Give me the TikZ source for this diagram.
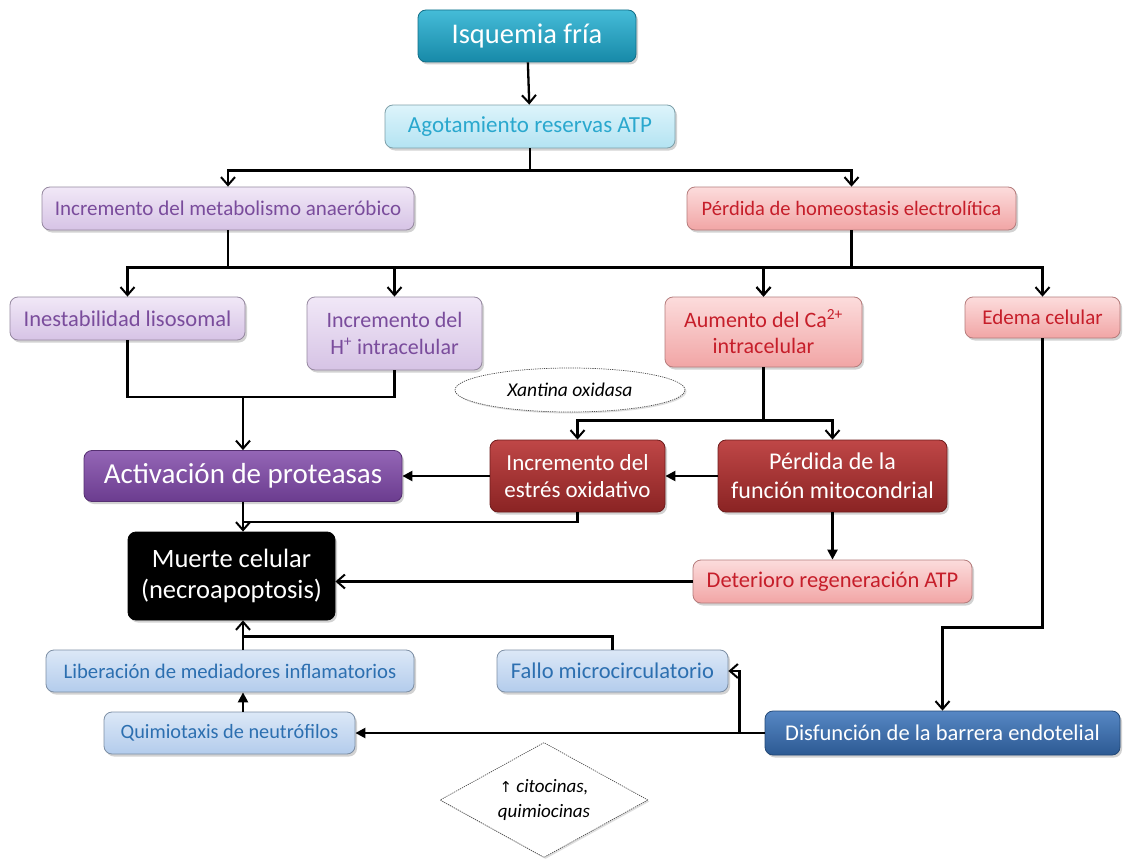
\documentclass[tikz,border=0pt]{standalone}
\usepackage{fontspec}
\setmainfont{Carlito}
\newfontfamily\symfont{DejaVu Sans}
\usetikzlibrary{arrows.meta,shapes.geometric,shadows,calc}

\definecolor{tealA}{HTML}{45BCD8}
\definecolor{tealB}{HTML}{1789A8}
\definecolor{skyA}{HTML}{DDF4FB}
\definecolor{skyB}{HTML}{B3E3F2}
\definecolor{skyT}{HTML}{2AA8CE}
\definecolor{lavA}{HTML}{F1E8F7}
\definecolor{lavB}{HTML}{D6C3E5}
\definecolor{lavT}{HTML}{7A4C9C}
\definecolor{rosA}{HTML}{FCDCDC}
\definecolor{rosB}{HTML}{F1A5A5}
\definecolor{rosT}{HTML}{C61E2A}
\definecolor{purA}{HTML}{9466B6}
\definecolor{purB}{HTML}{6B3C8F}
\definecolor{redA}{HTML}{BF4747}
\definecolor{redB}{HTML}{8A2323}
\definecolor{bluA}{HTML}{DCE8F7}
\definecolor{bluB}{HTML}{B3CCEC}
\definecolor{bluT}{HTML}{2C6FB0}
\definecolor{navA}{HTML}{5787C4}
\definecolor{navB}{HTML}{2C5A93}

\newcommand\fs[1]{\fontsize{#1}{#1}\selectfont}

\tikzset{
  box/.style={rectangle, rounded corners=8pt, align=center, inner sep=2pt,
    line width=0.8pt, execute at begin node={\baselineskip=1.2em},
    drop shadow={shadow xshift=2pt, shadow yshift=-2.5pt, opacity=0.35}},
  tealbox/.style={box, draw=tealB!80!black, top color=tealA, bottom color=tealB, text=white},
  skybox/.style={box, draw=skyB!70!black, top color=skyA, bottom color=skyB, text=skyT},
  lavbox/.style={box, draw=lavB!70!black, top color=lavA, bottom color=lavB, text=lavT},
  rosbox/.style={box, draw=rosB!75!black, top color=rosA, bottom color=rosB, text=rosT},
  purbox/.style={box, draw=purB!80!black, top color=purA, bottom color=purB, text=white},
  redbox/.style={box, draw=redB!80!black, top color=redA, bottom color=redB, text=white},
  blackbox/.style={box, draw=black, fill=black, text=white},
  blubox/.style={box, draw=bluB!70!black, top color=bluA, bottom color=bluB, text=bluT},
  navbox/.style={box, draw=navB!80!black, top color=navA, bottom color=navB, text=white},
  note/.style={draw=black!70, dashed, dash pattern=on 1.2pt off 1pt, line width=0.7pt,
    fill=white, drop shadow={shadow xshift=1.5pt, shadow yshift=-1.5pt, opacity=0.25},
    font=\itshape, align=center},
  link/.style={line width=2.3pt, draw=black},
  arr/.style={link, -{Straight Barb[length=8pt,width=14pt,line width=2pt]}},
  tri/.style={link, -{Triangle[length=10pt,width=10pt]}},
}

\begin{document}
\begin{tikzpicture}[x=1pt,y=-1pt]
\useasboundingbox[fill=white] (0,0) rectangle (1125,859);

% boxes
\node[tealbox, font=\fs{28.5}, minimum width=218pt, minimum height=52pt] (isq) at (527,36) {Isquemia fría};
\node[skybox, font=\fs{23}, minimum width=290pt, minimum height=43pt] (atp) at (530,126.5) {Agotamiento reservas ATP};
\node[lavbox, font=\fs{21}, minimum width=372pt, minimum height=43pt] (meta) at (228,208.5) {Incremento del metabolismo anaeróbico};
\node[rosbox, font=\fs{20.5}, minimum width=329pt, minimum height=43pt] (homeo) at (851.5,208.5) {Pérdida de homeostasis electrolítica};
\node[lavbox, font=\fs{22.5}, minimum width=235pt, minimum height=43pt] (lis) at (127.5,318.5) {Inestabilidad lisosomal};
\node[lavbox, font=\fs{22}, minimum width=175pt, minimum height=73pt] (hplus) at (394.5,333.5) {Incremento del\\H\textsuperscript{+} intracelular};
\node[rosbox, font=\fs{22}, minimum width=197pt, minimum height=70pt] (ca) at (763.5,332) {Aumento del Ca\textsuperscript{2+}\\intracelular};
\node[rosbox, font=\fs{21}, minimum width=155pt, minimum height=41pt] (edema) at (1042.5,317.5) {Edema celular};
\node[note, ellipse, font=\itshape\fs{19.5}, minimum width=230pt, minimum height=44pt] (xan) at (570,390) {Xantina oxidasa};
\node[purbox, font=\fs{29}, minimum width=318pt, minimum height=51pt] (prot) at (243,476) {Activación de proteasas};
\node[redbox, font=\fs{23}, minimum width=175pt, minimum height=72pt] (oxi) at (577.5,476) {Incremento del\\estrés oxidativo};
\node[redbox, font=\fs{24}, minimum width=229pt, minimum height=72pt] (mito) at (832.5,476) {Pérdida de la\\función mitocondrial};
\node[blackbox, font=\fs{26.5}, minimum width=207pt, minimum height=88pt] (muerte) at (231.5,576) {Muerte celular\\(necroapoptosis)};
\node[rosbox, font=\fs{22.5}, minimum width=279pt, minimum height=43pt] (deter) at (832.5,581.5) {Deterioro regeneración ATP};
\node[blubox, font=\fs{20.7}, minimum width=368pt, minimum height=42pt] (lib) at (230,671) {Liberación de mediadores inflamatorios};
\node[blubox, font=\fs{22.5}, minimum width=231pt, minimum height=42pt] (fallo) at (612.5,671) {Fallo microcirculatorio};
\node[blubox, font=\fs{20.3}, minimum width=251pt, minimum height=42pt] (quim) at (229.5,733) {Quimiotaxis de neutrófilos};
\node[navbox, font=\fs{22.5}, minimum width=355pt, minimum height=44pt] (disf) at (942.5,733) {Disfunción de la barrera endotelial};
\node[note, diamond, aspect=1.8, font=\itshape\fs{19}, minimum width=208pt, minimum height=115pt, inner sep=0pt,
  execute at begin node={\baselineskip=25pt}] (cit) at (544,800)
  {{\symfont\upshape\fs{15}↑} citocinas,\\quimiocinas};

% connectors
\draw[arr] (isq) -- (atp);
\coordinate (s1) at ($(atp.south)+(0,22)$);
\draw[link] (atp.south) -- (s1);
\draw[arr] (s1) -| (meta.north);
\draw[arr] (s1) -| (homeo.north);

\coordinate (s2) at ($(meta.south)+(0,37)$);
\coordinate (s3) at ($(homeo.south)+(0,37)$);
\draw[link] (meta.south) -- (s2);
\draw[link] (homeo.south) -- (s3);
\draw[arr] (s2) -| (lis.north);
\draw[arr] (s2) -| (hplus.north);
\draw[arr] (s2) -| (ca.north);
\draw[arr] (s3) -| (ca.north);
\draw[arr] (s3) -| (edema.north);

\coordinate (s4) at (prot.north |- 0,397);
\draw[link] (lis.south) |- (hplus.south |- s4) -- (hplus.south);
\draw[arr] (s4) -- (prot.north);

\coordinate (s5) at ($(ca.south)+(0,53)$);
\draw[link] (ca.south) -- (s5);
\draw[arr] (s5) -| (oxi.north);
\draw[arr] (s5) -| (mito.north);

\draw[tri] (mito.west) -- (oxi.east);
\draw[tri] (oxi.west) -- (prot.east);
\draw[link] (oxi.south) |- (prot.south |- 0,522);
\draw[arr] (prot.south) -- (prot.south |- muerte.north);

\draw[tri] (mito.south) -- (deter.north);
\draw[arr] (deter.west) -- (deter.west -| muerte.east);

\draw[arr] (edema.south) |- ($(disf.north)+(0,-83)$) -- (disf.north);
\draw[tri] (disf.west) -- (disf.west -| quim.east);
\coordinate (s6) at ($(disf.west)+(-25,0)$);
\draw[arr] (s6) |- (fallo.east);

\draw[tri] (quim.north -| prot.south) -- (lib.south -| prot.south);
\draw[arr] (lib.north -| prot.south) -- (muerte.south -| prot.south);
\draw[link] (fallo.north) |- ($(lib.north -| prot.south)+(0,-13)$);
\end{tikzpicture}
\end{document}
